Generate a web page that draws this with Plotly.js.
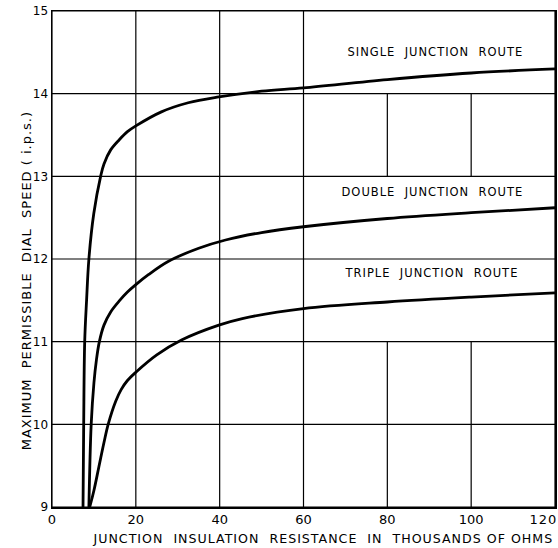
<!DOCTYPE html>
<html><head><meta charset="utf-8">
<script src="https://cdn.plot.ly/plotly-3.0.1.min.js"></script>
<style>html,body{margin:0;padding:0;background:#fff;}#chart{width:558px;height:548px;}
#chart .annotation-text{letter-spacing:1px;}</style>
</head><body><div id="chart"></div>
<script>
// Data (x in thousands of ohms, y in i.p.s.)
const singleX = [7.4, 7.56, 7.8, 8.25, 8.8, 9.97, 11.6, 12.4, 14.0, 16.0, 18.0, 20, 26.1, 32.5, 39.8, 50, 60, 80, 100, 120];
const singleY = [9.0, 10.0, 11.0, 11.5, 12.0, 12.55, 13.0, 13.15, 13.32, 13.44, 13.54, 13.61, 13.78, 13.89, 13.96, 14.03, 14.07, 14.17, 14.25, 14.30];
const doubleX = [8.8, 9.35, 10.0, 10.6, 11.3, 12.4, 14.0, 16.0, 18.0, 20, 23, 27.7, 35, 41.4, 50, 60, 80, 100, 120];
const doubleY = [9.0, 10.0, 10.5, 10.78, 11.0, 11.2, 11.36, 11.49, 11.60, 11.69, 11.81, 11.97, 12.13, 12.23, 12.32, 12.39, 12.49, 12.56, 12.62];
const tripleX = [9.0, 10.0, 11.2, 12.4, 13.4, 15.2, 16.5, 18.0, 20, 25, 30.9, 39.8, 45.4, 60, 80, 100, 120];
const tripleY = [9.0, 9.2, 9.49, 9.78, 10.0, 10.28, 10.42, 10.53, 10.63, 10.84, 11.02, 11.20, 11.28, 11.40, 11.48, 11.54, 11.59];
const xTicks = [0, 20, 40, 60, 80, 100, 120];
const yTicks = [9, 10, 11, 12, 13, 14, 15];
const routeLabels = ["SINGLE  JUNCTION  ROUTE", "DOUBLE  JUNCTION  ROUTE", "TRIPLE  JUNCTION  ROUTE"];
const labelX = [91.4, 90.7, 90.5];
const labelY = [14.5, 12.81, 11.83];
// bands (y ranges) in which the label boxes hide the 80 and 100 grid lines
const labelBands = [[11, 13], [14, 15]];

const font = "DejaVu Sans, Liberation Sans, sans-serif";
const lineStyle = {color: "#000", width: 2.8, shape: "spline", smoothing: 1.0};
const traces = [
  {x: singleX, y: singleY, mode: "lines", line: lineStyle, hoverinfo: "skip"},
  {x: doubleX, y: doubleY, mode: "lines", line: lineStyle, hoverinfo: "skip"},
  {x: tripleX, y: tripleY, mode: "lines", line: lineStyle, hoverinfo: "skip"}
];

const shapes = [];
const gl = {color: "#000", width: 1.2};
const yMin = yTicks[0], yMax = yTicks[yTicks.length-1];
const xMax = xTicks[xTicks.length-1];
yTicks.forEach(v => shapes.push({type: "line", xref: "x", yref: "y", x0: xTicks[0], x1: xMax, y0: v, y1: v, line: gl, layer: "below"}));
xTicks.forEach(v => {
  if (v === 80 || v === 100) {
    let start = yMin;
    labelBands.forEach(b => {
      if (b[0] > start) shapes.push({type:"line",xref:"x",yref:"y",x0:v,x1:v,y0:start,y1:b[0],line:gl,layer:"below"});
      start = Math.max(start, b[1]);
    });
    if (start < yMax) shapes.push({type:"line",xref:"x",yref:"y",x0:v,x1:v,y0:start,y1:yMax,line:gl,layer:"below"});
  } else {
    shapes.push({type: "line", xref: "x", yref: "y", x0: v, x1: v, y0: yMin, y1: yMax, line: gl, layer: "below"});
  }
});

const tickFont = {family: font, size: 13, color: "#000"};
const annotations = routeLabels.map((t, i) => ({
  x: labelX[i], y: labelY[i], xref: "x", yref: "y", text: t, showarrow: false,
  font: {family: font, size: 11.5, color: "#000"}
}));
// last x tick label, kept inside the page (right-aligned at the plot edge)
annotations.push({
  xref: "x", yref: "paper", x: xMax, y: 0, xanchor: "right", xshift: 3, yanchor: "top", yshift: -3,
  text: String(xMax), showarrow: false, font: tickFont
});
annotations.push({
  xref: "paper", yref: "paper", x: 0.539, y: 0, yshift: -31, yanchor: "middle",
  text: "JUNCTION  INSULATION  RESISTANCE  IN  THOUSANDS OF OHMS", showarrow: false,
  font: {family: font, size: 12.6, color: "#000"}
});
annotations.push({
  xref: "paper", yref: "paper", x: 0, xshift: -35, y: 0.455, textangle: -90,
  text: "MAXIMUM  PERMISSIBLE  DIAL  SPEED ( i.p.s.)", showarrow: false,
  font: {family: font, size: 13, color: "#000"}
});

const layout = {
  width: 558, height: 548,
  margin: {l: 52, r: 3, t: 11, b: 41},
  paper_bgcolor: "#fff", plot_bgcolor: "#fff",
  showlegend: false,
  xaxis: {range: [0, 120], tickvals: xTicks, ticktext: xTicks.map(v => v === xMax ? "" : String(v)),
          showgrid: false, zeroline: false,
          showline: true, mirror: true, linecolor: "#000", linewidth: 1.5, ticks: "",
          tickfont: tickFont},
  yaxis: {range: [9, 15], tickvals: yTicks, ticktext: yTicks.map(String), showgrid: false, zeroline: false,
          showline: true, mirror: true, linecolor: "#000", linewidth: 1.5, ticks: "",
          tickfont: {family: font, size: 12, color: "#000"}},
  shapes: shapes,
  annotations: annotations
};
Plotly.newPlot("chart", traces, layout, {displayModeBar: false, staticPlot: true});
</script></body></html>
